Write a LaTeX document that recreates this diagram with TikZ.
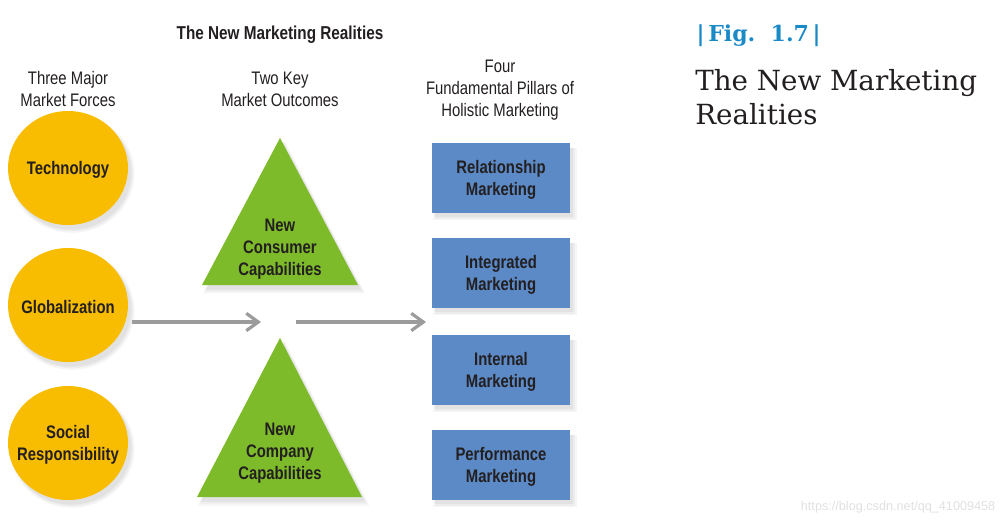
\documentclass[tikz,border=0pt]{standalone}
\usepackage{fontspec}
\setmainfont{Liberation Sans}
\newfontfamily\cond[FakeStretch=0.82]{Liberation Sans}
\newfontfamily\slab{DejaVu Serif}
\usetikzlibrary{arrows.meta,shadows,shapes.geometric}
\definecolor{circ}{HTML}{F8BC00}
\definecolor{tri}{HTML}{7EBB2A}
\definecolor{boxc}{HTML}{5B8AC6}
\definecolor{ink}{HTML}{231F20}
\definecolor{arr}{HTML}{9B9B9B}
\definecolor{figblue}{HTML}{1A8AC6}
\tikzset{
  shad/.style={
    drop shadow={opacity=0.07,shadow xshift=3pt,shadow yshift=-4pt,shadow scale=1.04},
    drop shadow={opacity=0.08,shadow xshift=3pt,shadow yshift=-4pt,shadow scale=1.015},
    drop shadow={opacity=0.10,shadow xshift=2.5pt,shadow yshift=-3.5pt}},
  force/.style={ellipse,minimum width=90pt,minimum height=85.5pt,fill=circ,shad,inner sep=0pt},
  pillar/.style={rectangle,minimum width=103.5pt,minimum height=52pt,fill=boxc,shad,inner sep=0pt},
  lbl/.style={font=\cond\fontsize{13.6}{16.5}\selectfont\bfseries,text=ink,align=center,yshift=-1.5pt},
  head/.style={font=\cond\fontsize{13.6}{16.5}\selectfont,text=ink,align=center},
  flow/.style={draw=arr,line width=3pt,-{Straight Barb[length=9pt,width=13pt,line width=2.4pt]}},
}
\begin{document}
\begin{tikzpicture}[x=0.75pt,y=-0.75pt]
\useasboundingbox (0,0) rectangle (1007,526);
% titles
\node[head,font=\cond\fontsize{14}{16.5}\selectfont\bfseries] (title) at (280,35) {The New Marketing Realities};
\node[head] (h1) at (68,89) {Three Major\\Market Forces};
\node[head] (h2) at (280,89) {Two Key\\Market Outcomes};
\node[head] (h3) at (500,90) {Four\\Fundamental Pillars of\\Holistic Marketing};
% forces
\node[force] (tech) at (68,168) {};
\node[lbl] at (tech) {Technology};
\node[force] (glob) at (68,305) {};
\node[lbl] at (glob) {Globalization};
\node[force] (soc) at (68,443) {};
\node[lbl] at (soc) {Social\\Responsibility};
% triangles
\fill[tri,shad] (280,138) -- (358,285) -- (202,285) -- cycle;
\node[lbl] (cons) at (280,247) {New\\Consumer\\Capabilities};
\fill[tri,shad] (280,338) -- (362,497) -- (197,497) -- cycle;
\node[lbl] (comp) at (280,451) {New\\Company\\Capabilities};
% pillars
\node[pillar] (rel) at (501,178) {};
\node[lbl] at (rel) {Relationship\\Marketing};
\node[pillar] (int) at (501,273) {};
\node[lbl] at (int) {Integrated\\Marketing};
\node[pillar] (inr) at (501,370) {};
\node[lbl] at (inr) {Internal\\Marketing};
\node[pillar] (perf) at (501,465) {};
\node[lbl] at (perf) {Performance\\Marketing};
% arrows
\coordinate (a1s) at (132,322);
\coordinate (a1e) at (261,322);
\coordinate (a2s) at (296,322);
\coordinate (a2e) at (426,322);
\draw[flow] (a1s) -- (a1e);
\draw[flow] (a2s) -- (a2e);
% figure caption
\node[anchor=west,font=\slab\bfseries\fontsize{16.5}{20}\selectfont,text=figblue] (fig) at (692,36) {|\,Fig.\ \ 1.7\,|};
\node[anchor=north west,align=left,font=\slab\fontsize{20.8}{25.5}\selectfont,text=ink,inner sep=0pt] (cap) at (695,69) {The New Marketing\\Realities};
\node[anchor=east,font=\fontsize{9.5}{11}\selectfont,text=black!12] (wm) at (1000,507) {https://blog.csdn.net/qq\_41009458};
\end{tikzpicture}
\end{document}
